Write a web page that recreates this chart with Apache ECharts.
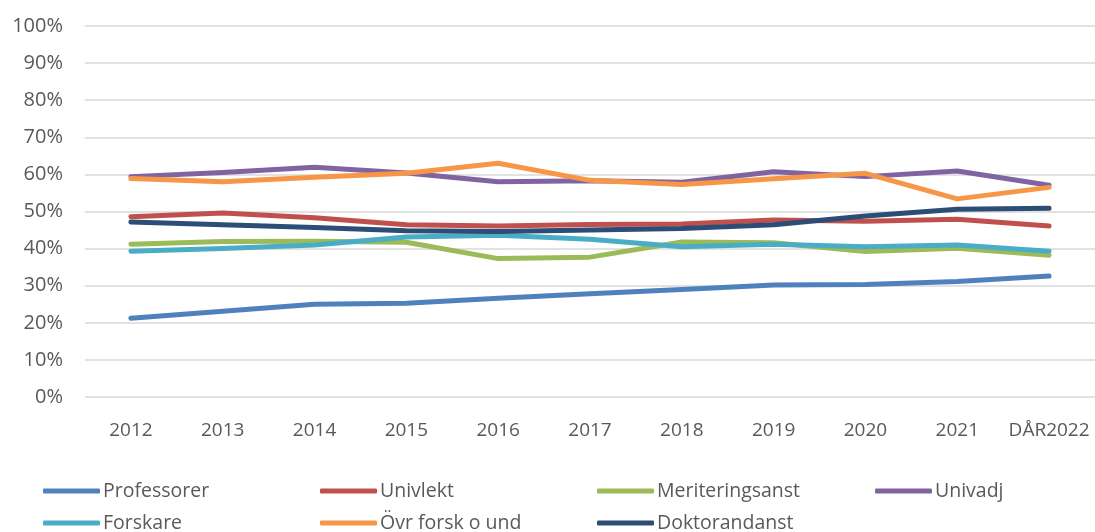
<!DOCTYPE html>
<html>
<head>
<meta charset="utf-8">
<script src="https://cdn.jsdelivr.net/npm/echarts@6/dist/echarts.min.js"></script>
<style>
html,body{margin:0;padding:0;background:#fff;}
#chart{width:1095px;height:532px;}
</style>
</head>
<body>
<div id="chart"></div>
<script>
const categories = ['2012','2013','2014','2015','2016','2017','2018','2019','2020','2021','DÅR2022'];
const yTicks = [0,10,20,30,40,50,60,70,80,90,100];
const professorer = [21.2, 23.1, 25.0, 25.3, 26.6, 27.8, 29.0, 30.2, 30.3, 31.1, 32.6];
const univlekt = [48.6, 49.6, 48.3, 46.4, 46.1, 46.5, 46.6, 47.7, 47.4, 47.9, 46.1];
const meriteringsanst = [41.2, 41.9, 42.0, 41.7, 37.3, 37.7, 41.8, 41.6, 39.2, 40.1, 38.2];
const univadj = [59.4, 60.5, 61.9, 60.4, 58.0, 58.3, 57.9, 60.7, 59.4, 60.9, 57.1];
const forskare = [39.3, 40.0, 41.0, 43.1, 43.6, 42.5, 40.5, 41.2, 40.5, 41.0, 39.3];
const ovrForsk = [58.9, 58.0, 59.2, 60.3, 63.0, 58.4, 57.3, 58.8, 60.3, 53.4, 56.5];
const doktorandanst = [47.2, 46.4, 45.7, 44.8, 44.6, 45.0, 45.4, 46.4, 48.8, 50.6, 50.9];

const seriesNames = ['Professorer','Univlekt','Meriteringsanst','Univadj','Forskare','Övr forsk o und','Doktorandanst'];
const seriesData = [professorer, univlekt, meriteringsanst, univadj, forskare, ovrForsk, doktorandanst];
const colors = ['#4F81BD','#C0504D','#9BBB59','#8064A2','#4BACC6','#F79646','#2C4D75'];

const FONT = "'Open Sans', 'DejaVu Sans', sans-serif";
const TXT = '#595959';

const legendPos = [
  [43, 481], [320, 481], [597, 481], [875, 481],
  [43, 513], [320, 513], [597, 513]
];

const chart = echarts.init(document.getElementById('chart'));
chart.setOption({
  backgroundColor: '#fff',
  animation: false,
  color: colors,
  textStyle: { fontFamily: FONT },
  grid: { left: 85, right: 0, top: 26, bottom: 135, containLabel: false },
  legend: seriesNames.map((n, i) => ({
    data: [n],
    left: legendPos[i][0],
    top: legendPos[i][1],
    icon: 'roundRect',
    itemWidth: 57,
    itemHeight: 5,
    itemGap: 0,
    padding: 0,
    textStyle: { color: TXT, fontSize: 19.5, fontFamily: FONT, padding: [0,0,0,-2] }
  })),
  xAxis: {
    type: 'category',
    data: categories,
    boundaryGap: true,
    axisLine: { show: false },
    axisTick: { show: false },
    axisLabel: { color: TXT, fontSize: 19, fontFamily: FONT, margin: 24, interval: 0, hideOverlap: false },
    splitLine: { show: false }
  },
  yAxis: {
    type: 'value',
    min: yTicks[0],
    max: yTicks[yTicks.length - 1],
    interval: 10,
    axisLine: { show: false },
    axisTick: { show: false },
    axisLabel: { color: TXT, fontSize: 20, fontFamily: FONT, margin: 22, formatter: '{value}%' },
    splitLine: { show: true, lineStyle: { color: '#D9D9D9', width: 1.5 } }
  },
  series: seriesNames.map((n, i) => ({
    name: n,
    type: 'line',
    data: seriesData[i],
    symbol: 'none',
    smooth: false,
    lineStyle: { width: 5, color: colors[i], cap: 'round', join: 'round' },
    itemStyle: { color: colors[i] },
    emphasis: { disabled: true }
  }))
});
</script>
</body>
</html>
